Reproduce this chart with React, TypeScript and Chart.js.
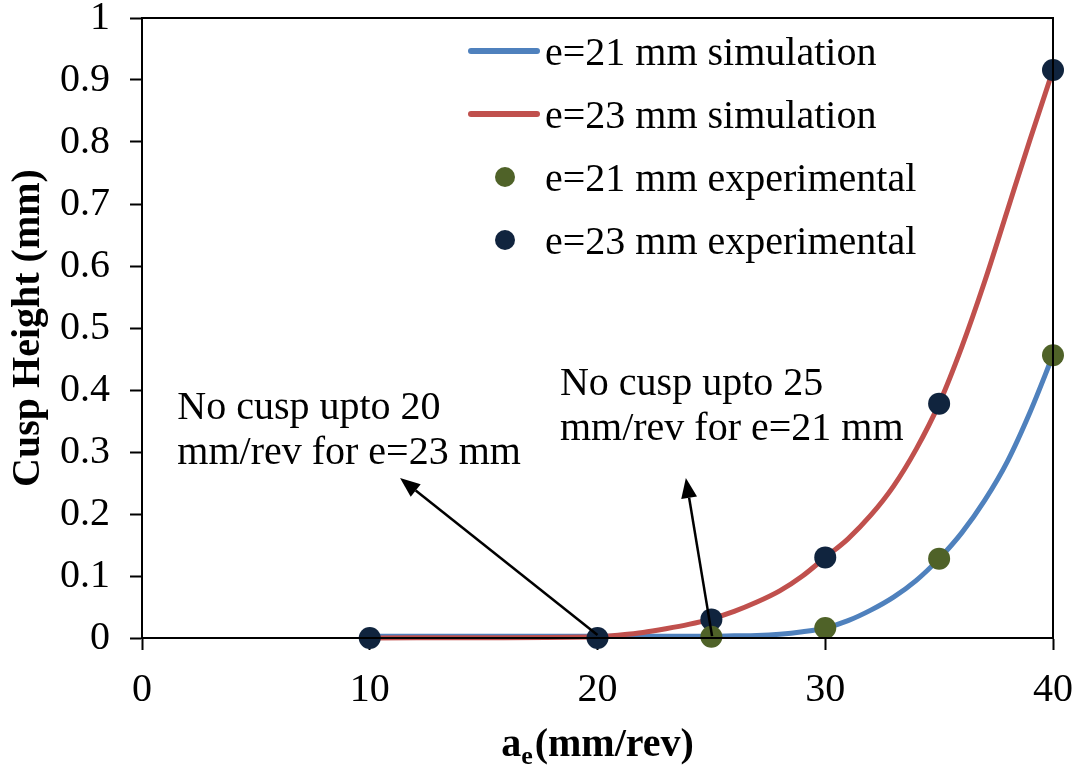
import React, { useEffect, useRef } from "react";
import { Chart, registerables } from "chart.js";

Chart.register(...registerables);

// ---- data ----
const simX = [10, 15, 20, 21, 22, 23, 24, 25, 26, 27, 28, 29, 30, 31, 32, 33, 34, 35, 36, 37, 38, 39, 40];
const sim21 = [0.003, 0.003, 0.003, 0.003, 0.003, 0.003, 0.003, 0.003, 0.0035, 0.004, 0.006, 0.01, 0.016, 0.028, 0.045, 0.066, 0.093, 0.128, 0.17, 0.222, 0.285, 0.365, 0.456];
const sim23 = [0, 0.0005, 0.002, 0.005, 0.009, 0.015, 0.022, 0.031, 0.043, 0.058, 0.076, 0.1, 0.13, 0.16, 0.198, 0.245, 0.305, 0.378, 0.47, 0.575, 0.69, 0.805, 0.916];
const expX21 = [25, 30, 35, 40];
const exp21 = [0.002, 0.016, 0.128, 0.456];
const expX23 = [10, 20, 25, 30, 35, 40];
const exp23 = [0, 0, 0.03, 0.13, 0.378, 0.916];

const seriesNames = ["e=21 mm simulation", "e=23 mm simulation", "e=21 mm experimental", "e=23 mm experimental"];
const seriesColors = ["#4F81BD", "#C0504D", "#4F6228", "#10243E"];

const xTitleMain = "a";
const xTitleSub = "e";
const xTitleRest = "(mm/rev)";
const yTitle = "Cusp Height (mm)";

const notes = [
  { lines: ["No cusp upto 20", "mm/rev for e=23 mm"], x: 1.55, y: 0.353, from: [20, 0.005], to: [11.33, 0.258] },
  { lines: ["No cusp upto 25", "mm/rev for e=21 mm"], x: 18.35, y: 0.392, from: [25.03, 0.003], to: [23.88, 0.258] },
];

const FONT = "'Liberation Serif', 'Times New Roman', serif";

const pts = (xs: number[], ys: number[]) => xs.map((x, i) => ({ x, y: ys[i] }));

const overlay = {
  id: "overlay",
  afterDatasetsDraw(chart: any) {
    const { ctx, chartArea: a, scales } = chart;
    const xs = scales.x;
    const ys = scales.y;
    ctx.save();
    // frame
    ctx.strokeStyle = "#000";
    ctx.lineWidth = 2;
    ctx.strokeRect(a.left, a.top, a.right - a.left, a.bottom - a.top);

    // annotations
    ctx.fillStyle = "#000";
    ctx.font = `40px ${FONT}`;
    ctx.textAlign = "left";
    ctx.textBaseline = "alphabetic";
    notes.forEach((n) => {
      const px = xs.getPixelForValue(n.x);
      const py = ys.getPixelForValue(n.y);
      n.lines.forEach((ln, i) => ctx.fillText(ln, px, py + i * 45));
      const x1 = xs.getPixelForValue(n.from[0]);
      const y1 = ys.getPixelForValue(n.from[1]);
      const x2 = xs.getPixelForValue(n.to[0]);
      const y2 = ys.getPixelForValue(n.to[1]);
      const ang = Math.atan2(y2 - y1, x2 - x1);
      const L = 20, W = 8;
      const bx = x2 - L * Math.cos(ang);
      const by = y2 - L * Math.sin(ang);
      ctx.beginPath();
      ctx.moveTo(x1, y1);
      ctx.lineTo(bx, by);
      ctx.lineWidth = 2.5;
      ctx.strokeStyle = "#000";
      ctx.stroke();
      ctx.beginPath();
      ctx.moveTo(x2, y2);
      ctx.lineTo(bx + W * Math.sin(ang), by - W * Math.cos(ang));
      ctx.lineTo(bx - W * Math.sin(ang), by + W * Math.cos(ang));
      ctx.closePath();
      ctx.fill();
    });

    // legend
    const rows = [51, 114, 177, 240];
    rows.forEach((ry, i) => {
      if (i < 2) {
        ctx.beginPath();
        ctx.moveTo(471, ry);
        ctx.lineTo(537, ry);
        ctx.lineWidth = 6;
        ctx.lineCap = "round";
        ctx.strokeStyle = seriesColors[i];
        ctx.stroke();
      } else {
        ctx.beginPath();
        ctx.arc(505, ry, 10, 0, Math.PI * 2);
        ctx.fillStyle = seriesColors[i];
        ctx.fill();
      }
      ctx.fillStyle = "#000";
      ctx.font = `40px ${FONT}`;
      ctx.fillText(seriesNames[i], 545, ry + 14);
    });

    // x title
    const bigF = `bold 40px ${FONT}`;
    const subF = `bold 26px ${FONT}`;
    ctx.font = bigF;
    const w1 = ctx.measureText(xTitleMain).width;
    const w3 = ctx.measureText(xTitleRest).width;
    ctx.font = subF;
    const w2 = ctx.measureText(xTitleSub).width;
    const total = w1 + w2 + 2 + w3;
    let tx = (a.left + a.right) / 2 - total / 2;
    const tb = 756;
    ctx.font = bigF;
    ctx.fillText(xTitleMain, tx, tb);
    tx += w1;
    ctx.font = subF;
    ctx.fillText(xTitleSub, tx, tb + 8);
    tx += w2 + 2;
    ctx.font = bigF;
    ctx.fillText(xTitleRest, tx, tb);

    // y title
    ctx.translate(29, (a.top + a.bottom) / 2);
    ctx.rotate(-Math.PI / 2);
    ctx.textAlign = "center";
    ctx.textBaseline = "middle";
    ctx.font = bigF;
    ctx.fillText(yTitle, 0, 0);
    ctx.restore();
  },
};

export default function App() {
  const ref = useRef<HTMLCanvasElement | null>(null);
  useEffect(() => {
    if (!ref.current) return;
    const tickFont = { family: FONT, size: 40, lineHeight: 1 };
    const chart = new Chart(ref.current, {
      type: "scatter",
      data: {
        datasets: [
          {
            label: seriesNames[2],
            data: pts(expX21, exp21),
            backgroundColor: seriesColors[2],
            borderColor: seriesColors[2],
            pointRadius: 11,
            borderWidth: 0,
            showLine: false,
            order: 0,
            clip: false,
          },
          {
            label: seriesNames[3],
            data: pts(expX23, exp23),
            backgroundColor: seriesColors[3],
            borderColor: seriesColors[3],
            pointRadius: 11,
            borderWidth: 0,
            showLine: false,
            order: 1,
            clip: false,
          },
          {
            label: seriesNames[1],
            data: pts(simX, sim23),
            borderColor: seriesColors[1],
            backgroundColor: seriesColors[1],
            borderWidth: 5,
            pointRadius: 0,
            showLine: true,
            cubicInterpolationMode: "monotone",
            order: 2,
            clip: false,
          },
          {
            label: seriesNames[0],
            data: pts(simX, sim21),
            borderColor: seriesColors[0],
            backgroundColor: seriesColors[0],
            borderWidth: 5,
            pointRadius: 0,
            showLine: true,
            cubicInterpolationMode: "monotone",
            order: 3,
            clip: false,
          },
        ] as any,
      },
      options: {
        animation: false,
        responsive: false,
        devicePixelRatio: 1,
        events: [],
        layout: { padding: { top: 18, right: 31, left: 0, bottom: 0 } },
        plugins: { legend: { display: false }, tooltip: { enabled: false } },
        scales: {
          x: {
            type: "linear",
            min: 0,
            max: 40,
            ticks: { stepSize: 10, font: tickFont, color: "#000", padding: 20, maxRotation: 0 },
            grid: { drawOnChartArea: false, drawTicks: true, tickLength: 12, tickColor: "#000", tickWidth: 2 },
            border: { display: true, color: "#000", width: 2 },
            afterFit: (s: any) => {
              s.height = 767 - 638;
              s.paddingLeft = 0;
              s.paddingRight = 0;
              s.paddingTop = 0;
              s.paddingBottom = 0;
            },
          },
          y: {
            type: "linear",
            min: 0,
            max: 1,
            ticks: {
              stepSize: 0.1,
              font: tickFont,
              color: "#000",
              padding: 20,
              callback: (v: any) => String(Number(Number(v).toFixed(1))),
            },
            grid: { drawOnChartArea: false, drawTicks: true, tickLength: 12, tickColor: "#000", tickWidth: 2 },
            border: { display: true, color: "#000", width: 2 },
            afterFit: (s: any) => {
              s.width = 142;
              s.paddingLeft = 0;
              s.paddingRight = 0;
              s.paddingTop = 0;
              s.paddingBottom = 0;
            },
          },
        },
      } as any,
      plugins: [overlay],
    });
    return () => chart.destroy();
  }, []);
  return (
    <div style={{ position: "absolute", left: 0, top: 0, width: 1084, height: 767, background: "#fff" }}>
      <canvas ref={ref} width={1084} height={767} style={{ display: "block" }} />
    </div>
  );
}
